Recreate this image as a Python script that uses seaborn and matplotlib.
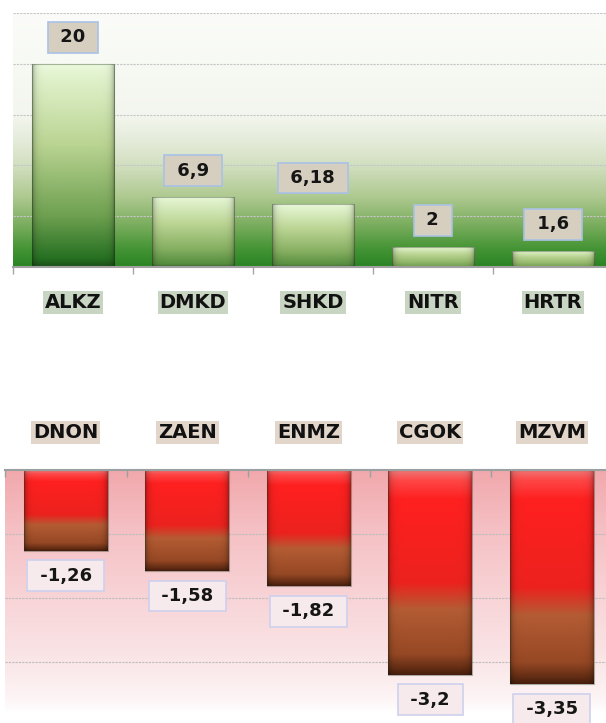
import numpy as np
import pandas as pd
import matplotlib
matplotlib.use("Agg")
import matplotlib.pyplot as plt
import seaborn as sns

# chart data
gain_names = ["ALKZ", "DMKD", "SHKD", "NITR", "HRTR"]
gain_values = [20, 6.9, 6.18, 2, 1.6]
loss_names = ["DNON", "ZAEN", "ENMZ", "CGOK", "MZVM"]
loss_values = [-1.26, -1.58, -1.82, -3.2, -3.35]

sns.set_theme(style="white")
plt.rcParams['font.family'] = ['DejaVu Sans']


def gradient(stops, n=256):
    # stops: (t from top, (r, g, b)) -> array of rows, top to bottom
    pos = [s[0] for s in stops]
    cols = np.array([s[1] for s in stops], dtype=float) / 255
    t = np.linspace(0, 1, n)
    return np.stack([np.interp(t, pos, cols[:, i]) for i in range(3)], axis=-1)


def bevel(m=64):
    d = np.minimum(np.linspace(0, 1, m), np.linspace(1, 0, m))
    return 1 - 0.28 * np.exp(-d / 0.035)


def fill_bars(ax, stops_for):
    for i, p in enumerate(ax.patches):
        x0 = p.get_x()
        x1 = x0 + p.get_width()
        y0, y1 = sorted([p.get_y(), p.get_y() + p.get_height()])
        img = gradient(stops_for(i))[:, None, :] * bevel()[None, :, None]
        im = ax.imshow(np.clip(img, 0, 1), extent=[x0, x1, y0, y1], aspect='auto',
                       interpolation='bilinear', zorder=2)
        im.set_clip_path(p)
        p.set_facecolor('none')
        p.set_edgecolor((0.1, 0.2, 0.1, 0.35))
        p.set_linewidth(0.8)
        p.set_zorder(2.5)


def background(ax, stops):
    img = gradient(stops)[:, None, :]
    ax.imshow(img, extent=[0, 1, 0, 1], transform=ax.transAxes, aspect='auto',
              interpolation='bilinear', zorder=0)


def label_fmt(v):
    return f"{v:g}".replace(".", ",")


fig = plt.figure(figsize=(6.06, 7.23), dpi=100)
ax1 = fig.add_axes([13 / 606, 1 - 267 / 723, 600 / 606, 254 / 723])
ax2 = fig.add_axes([5 / 606, 1 - 726 / 723, 607.5 / 606, 256 / 723])

# ---- top panel: gainers ----
gains = pd.DataFrame({"name": gain_names, "value": gain_values})
sns.barplot(data=gains, x="name", y="value", ax=ax1, width=0.69,
            color="#7fb060", saturation=1)

dark = np.array([38, 112, 34])
medium = np.array([150, 182, 102])


def green_stops(i):
    k = np.sqrt(gain_values[i] / max(gain_values))
    bottom = medium + (dark - medium) * k
    mid = np.array([110, 160, 80]) * k + np.array([165, 195, 120]) * (1 - k)
    return [(0, (236, 250, 222)), (0.06, (226, 243, 206)), (0.4, (186, 212, 146)),
            (0.75, tuple(mid)), (0.96, tuple(bottom)), (1, tuple(bottom * 0.7))]


background(ax1, [(0, (251, 252, 249)), (0.4, (243, 246, 238)), (0.5, (229, 236, 219)),
                 (0.6, (210, 223, 192)), (0.72, (176, 202, 146)), (0.84, (120, 172, 92)),
                 (0.93, (68, 148, 52)), (1, (42, 132, 36))])
fill_bars(ax1, green_stops)

for p, v in zip(ax1.patches, gain_values):
    ax1.annotate(f" {label_fmt(v)} ", (p.get_x() + p.get_width() / 2, p.get_height()),
                 xytext=(0, 19), textcoords='offset points', ha='center', va='center',
                 fontsize=13, fontweight='bold', color='#151515', zorder=4,
                 bbox=dict(boxstyle='square,pad=0.35', fc='#d6cfbf', ec='#a9c1e6', lw=1.2))

ax1.set_xlim(-0.5, 4.5)
ax1.set_ylim(0, 25)
ax1.set_yticks([5, 10, 15, 20, 25])
ax1.set_yticklabels([])
ax1.tick_params(axis='y', length=0)
ax1.yaxis.grid(True, color='#c6c6c6', linestyle=(0, (2, 1)), linewidth=0.8)
ax1.set_axisbelow(True)
ax1.set_xticks(range(5))
ax1.set_xticklabels(gain_names)
ax1.tick_params(axis='x', which='major', length=0, pad=19, labelsize=14)
ax1.set_xticks(np.arange(-0.5, 5, 1), minor=True)
ax1.tick_params(axis='x', which='minor', bottom=True, length=5, width=1,
                color='#a8a8a8', direction='out')
for t in ax1.get_xticklabels():
    t.set_fontweight('bold')
    t.set_color('#111111')
    t.set_bbox(dict(boxstyle='square,pad=0.1', fc='#c8d5c2', ec='none'))
for s in ['top', 'left', 'right']:
    ax1.spines[s].set_visible(False)
ax1.spines['bottom'].set_color('#a0a0a0')
ax1.spines['bottom'].set_linewidth(1.5)
ax1.set_xlabel("")
ax1.set_ylabel("")

# ---- bottom panel: losers ----
losses = pd.DataFrame({"name": loss_names, "value": loss_values})
sns.barplot(data=losses, x="name", y="value", ax=ax2, width=0.69,
            color="#e03020", saturation=1)


def red_stops(i):
    return [(0, (238, 120, 120)), (0.05, (255, 70, 70)), (0.14, (255, 32, 32)),
            (0.55, (236, 34, 30)), (0.68, (180, 92, 52)), (0.9, (150, 72, 36)),
            (0.97, (98, 44, 20)), (1, (70, 30, 14))]


background(ax2, [(0, (241, 168, 172)), (0.23, (245, 192, 196)), (0.5, (248, 212, 215)),
                 (0.74, (250, 229, 231)), (0.9, (253, 245, 246)), (0.95, (255, 255, 255)),
                 (1, (255, 255, 255))])
fill_bars(ax2, red_stops)

for p, v in zip(ax2.patches, loss_values):
    ax2.annotate(f" {label_fmt(v)} ", (p.get_x() + p.get_width() / 2, p.get_height()),
                 xytext=(0, -18), textcoords='offset points', ha='center', va='center',
                 fontsize=13, fontweight='bold', color='#151515', zorder=4,
                 bbox=dict(boxstyle='square,pad=0.35', fc='#f7eaed', ec='#cfd0ee', lw=1.2))

ax2.set_xlim(-0.5, 4.5)
ax2.set_ylim(-4, 0)
ax2.set_yticks([-4, -3, -2, -1])
ax2.set_yticklabels([])
ax2.tick_params(axis='y', length=0)
ax2.yaxis.grid(True, color='#bdbdbd', linestyle=(0, (2, 1)), linewidth=0.8)
ax2.set_axisbelow(True)
ax2.xaxis.tick_top()
ax2.set_xticks(range(5))
ax2.set_xticklabels(loss_names)
ax2.tick_params(axis='x', which='major', length=0, pad=20, labelsize=14,
                top=True, labeltop=True, bottom=False, labelbottom=False)
ax2.set_xticks(np.arange(-0.5, 5, 1), minor=True)
ax2.tick_params(axis='x', which='minor', top=True, bottom=False, length=5, width=1,
                color='#98a0a0', direction='in')
for t in ax2.get_xticklabels():
    t.set_fontweight('bold')
    t.set_color('#111111')
    t.set_bbox(dict(boxstyle='square,pad=0.1', fc='#e2d6cb', ec='none'))
for s in ['bottom', 'left', 'right']:
    ax2.spines[s].set_visible(False)
ax2.spines['top'].set_color('#98a0a0')
ax2.spines['top'].set_linewidth(1.5)
ax2.set_xlabel("")
ax2.set_ylabel("")

fig.savefig("out.png", dpi=100, facecolor='white')
